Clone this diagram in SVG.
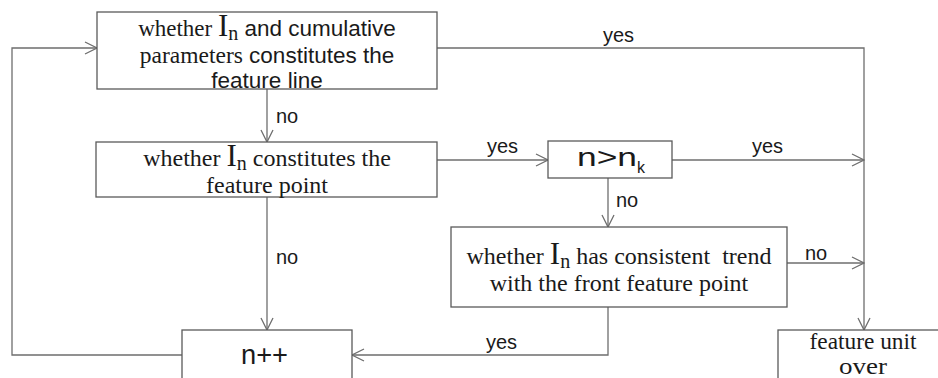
<svg xmlns="http://www.w3.org/2000/svg" width="938" height="378" viewBox="0 0 938 378">
  <style>
    .box { fill: #ffffff; stroke: #5a5a5a; stroke-width: 1.3; }
    .wire { fill: none; stroke: #6e6e6e; stroke-width: 1.3; marker-end: url(#arrow); }
    .serif { font-family: "Liberation Serif", "Times New Roman", serif; font-size: 24px; fill: #1a1a1a; }
    .sans { font-family: "Liberation Sans", Arial, sans-serif; font-size: 22.5px; fill: #1a1a1a; }
    .label { font-family: "Liberation Sans", Arial, sans-serif; font-size: 20px; fill: #1a1a1a; }
    .big { font-size: 31px; }
    .sub { font-size: 20px; }
  </style>
  <defs>
    <marker id="arrow" markerUnits="userSpaceOnUse" viewBox="0 0 14 14" refX="13" refY="7" markerWidth="14" markerHeight="14" orient="auto">
      <path d="M1,1 L13,7 L1,13" fill="none" stroke="#6e6e6e" stroke-width="1.3"/>
    </marker>
  </defs>

  <!-- connectors -->
  <g id="connectors">
    <path class="wire" d="M437,48 H864 V330"/>
    <path class="wire" d="M672,160 H864"/>
    <path class="wire" d="M787,263 H864"/>
    <path class="wire" d="M267,89 V142"/>
    <path class="wire" d="M437,160 H548"/>
    <path class="wire" d="M608,178 V227"/>
    <path class="wire" d="M267,197 V330"/>
    <path class="wire" d="M608,307 V355 H352"/>
    <path class="wire" d="M182,355 H12 V48 H97"/>
    <text class="label" x="603" y="42">yes</text>
    <text class="label" x="276" y="123">no</text>
    <text class="label" x="487" y="153">yes</text>
    <text class="label" x="752" y="153">yes</text>
    <text class="label" x="616" y="207">no</text>
    <text class="label" x="805" y="260">no</text>
    <text class="label" x="276" y="264">no</text>
    <text class="label" x="486" y="349">yes</text>
  </g>

  <!-- feature line test -->
  <g id="node-feature-line">
    <rect class="box" x="97" y="12" width="340" height="77"/>
    <text x="267" y="36" text-anchor="middle"><tspan class="serif" style="font-size:23px">whether </tspan><tspan class="serif big">I</tspan><tspan class="serif sub" dy="4">n</tspan><tspan class="sans" dy="-4"> and cumulative</tspan></text>
    <text x="267" y="63" text-anchor="middle"><tspan class="serif" style="font-size:23.5px">parameters</tspan><tspan class="sans"> constitutes the</tspan></text>
    <text class="sans" x="267" y="88" text-anchor="middle">feature line</text>
  </g>

  <!-- feature point test -->
  <g id="node-feature-point">
    <rect class="box" x="96" y="142" width="341" height="55"/>
    <text class="serif" x="267" y="166" text-anchor="middle">whether <tspan class="big">I</tspan><tspan class="sub" dy="4">n</tspan><tspan dy="-4"> constitutes the</tspan></text>
    <text class="serif" x="267" y="193" text-anchor="middle">feature point</text>
  </g>

  <!-- threshold test -->
  <g id="node-threshold">
    <rect class="box" x="548" y="141" width="124" height="37"/>
    <text class="sans" x="577" y="166" style="font-size:26px" textLength="60" lengthAdjust="spacingAndGlyphs">n&gt;n</text>
    <text class="sans" x="637" y="173" style="font-size:17px" textLength="8" lengthAdjust="spacingAndGlyphs">k</text>
  </g>

  <!-- trend test -->
  <g id="node-trend">
    <rect class="box" x="451" y="227" width="336" height="80"/>
    <text class="serif" x="619" y="264" text-anchor="middle" xml:space="preserve">whether <tspan class="big">I</tspan><tspan class="sub" dy="4">n</tspan><tspan dy="-4"> has consistent  trend</tspan></text>
    <text class="serif" x="619" y="291" text-anchor="middle">with the front feature point</text>
  </g>

  <!-- counter increment -->
  <g id="node-increment">
    <rect class="box" x="182" y="330" width="170" height="60"/>
    <text class="sans" x="241" y="364" style="font-size:28px" textLength="47" lengthAdjust="spacingAndGlyphs">n++</text>
  </g>

  <!-- end of feature unit -->
  <g id="node-unit-over">
    <rect class="box" x="778" y="330" width="180" height="60"/>
    <text class="serif" x="863" y="349" text-anchor="middle" style="font-size:22.5px" textLength="107" lengthAdjust="spacingAndGlyphs">feature unit</text>
    <text class="serif" x="863" y="374" text-anchor="middle" style="font-size:22.5px" textLength="48" lengthAdjust="spacingAndGlyphs">over</text>
  </g>
</svg>
